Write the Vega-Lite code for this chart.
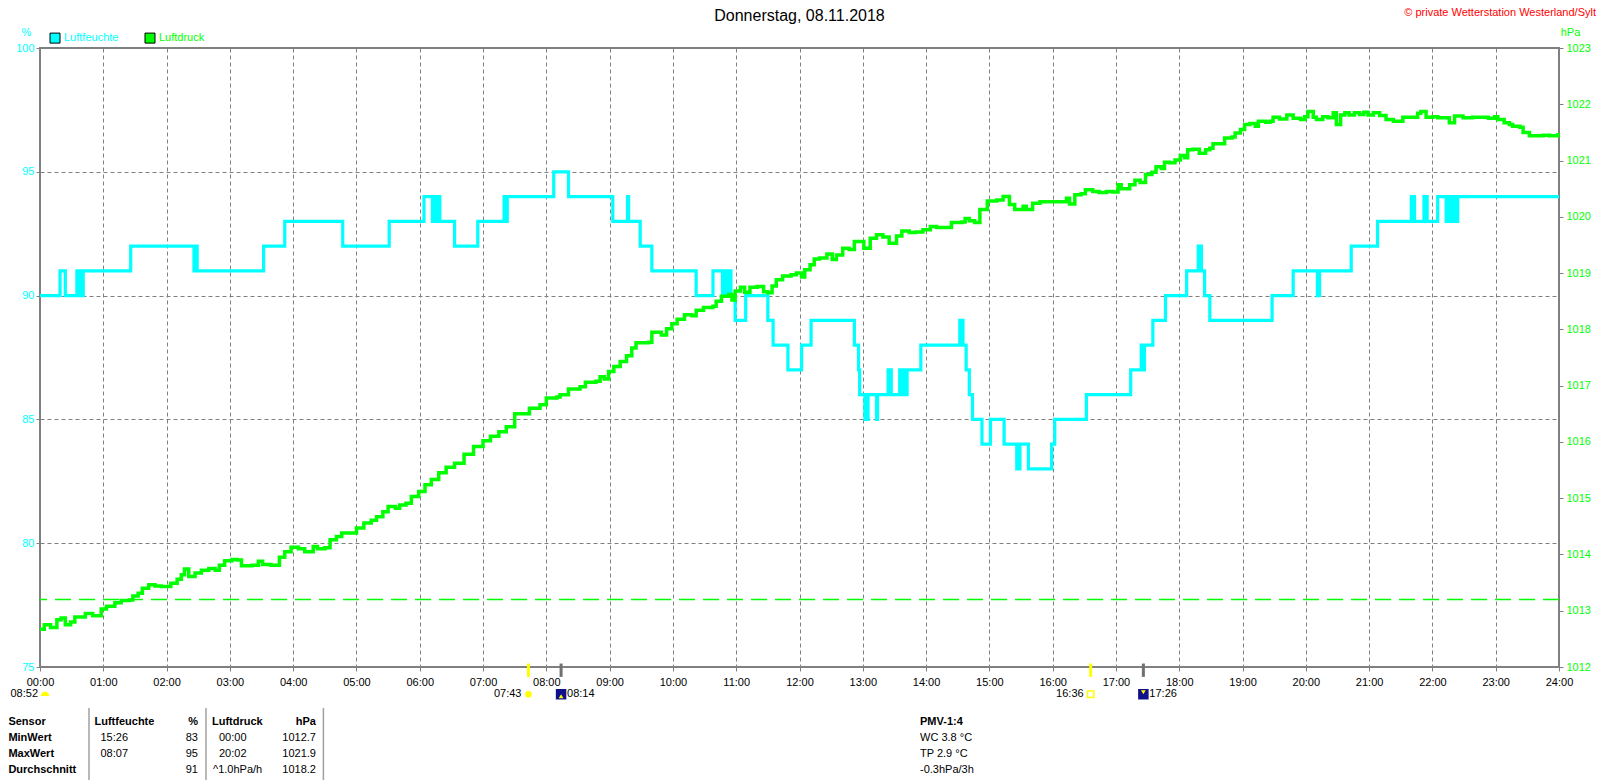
{
  "$schema": "https://vega.github.io/schema/vega-lite/v6.json",
  "width": 1519,
  "height": 619,
  "autosize": "none",
  "padding": {"left": 40, "top": 48, "right": 41, "bottom": 113},
  "background": "#ffffff",
  "config": {
    "font": "Liberation Sans",
    "view": {"stroke": "#808080", "strokeWidth": 2},
    "axis": {
      "domain": false,
      "tickColor": "#808080",
      "tickSize": 4,
      "labelFontSize": 11,
      "gridColor": "#808080",
      "gridDash": [4, 3],
      "gridWidth": 1,
      "gridOpacity": 1,
      "titleFontWeight": "normal",
      "titleFontSize": 11
    }
  },
  "datasets": {
    "humidity": [
      {"h": 0, "rh": 90}, {"h": 0.317, "rh": 91}, {"h": 0.4, "rh": 90}, {"h": 0.583, "rh": 91}, {"h": 0.617, "rh": 90},
      {"h": 0.65, "rh": 91}, {"h": 0.667, "rh": 90}, {"h": 0.683, "rh": 91}, {"h": 1.433, "rh": 92}, {"h": 2.433, "rh": 91},
      {"h": 2.467, "rh": 92}, {"h": 2.483, "rh": 91}, {"h": 3.533, "rh": 92}, {"h": 3.867, "rh": 93}, {"h": 4.783, "rh": 92},
      {"h": 5.517, "rh": 93}, {"h": 6.067, "rh": 94}, {"h": 6.2, "rh": 93}, {"h": 6.233, "rh": 94}, {"h": 6.267, "rh": 93},
      {"h": 6.3, "rh": 94}, {"h": 6.317, "rh": 93}, {"h": 6.55, "rh": 92}, {"h": 6.917, "rh": 93}, {"h": 7.333, "rh": 94},
      {"h": 7.35, "rh": 93}, {"h": 7.383, "rh": 94}, {"h": 8.117, "rh": 95}, {"h": 8.35, "rh": 94}, {"h": 9.05, "rh": 93},
      {"h": 9.283, "rh": 94}, {"h": 9.3, "rh": 93}, {"h": 9.483, "rh": 92}, {"h": 9.667, "rh": 91}, {"h": 10.367, "rh": 90},
      {"h": 10.633, "rh": 91}, {"h": 10.783, "rh": 90}, {"h": 10.8, "rh": 91}, {"h": 10.833, "rh": 90}, {"h": 10.85, "rh": 91},
      {"h": 10.883, "rh": 90}, {"h": 10.9, "rh": 91}, {"h": 10.917, "rh": 90}, {"h": 10.983, "rh": 89}, {"h": 11.15, "rh": 90},
      {"h": 11.5, "rh": 89}, {"h": 11.583, "rh": 88}, {"h": 11.817, "rh": 87}, {"h": 12.033, "rh": 88}, {"h": 12.183, "rh": 89},
      {"h": 12.867, "rh": 88}, {"h": 12.933, "rh": 87}, {"h": 12.95, "rh": 86}, {"h": 13.033, "rh": 85}, {"h": 13.05, "rh": 86},
      {"h": 13.067, "rh": 85}, {"h": 13.083, "rh": 86}, {"h": 13.217, "rh": 85}, {"h": 13.233, "rh": 86}, {"h": 13.4, "rh": 87},
      {"h": 13.45, "rh": 86}, {"h": 13.583, "rh": 87}, {"h": 13.617, "rh": 86}, {"h": 13.65, "rh": 87}, {"h": 13.667, "rh": 86},
      {"h": 13.7, "rh": 87}, {"h": 13.917, "rh": 88}, {"h": 14.533, "rh": 89}, {"h": 14.583, "rh": 88}, {"h": 14.633, "rh": 87},
      {"h": 14.683, "rh": 86}, {"h": 14.733, "rh": 85}, {"h": 14.883, "rh": 84}, {"h": 15.017, "rh": 85}, {"h": 15.233, "rh": 84},
      {"h": 15.433, "rh": 83}, {"h": 15.483, "rh": 84}, {"h": 15.617, "rh": 83}, {"h": 15.983, "rh": 84}, {"h": 16.033, "rh": 85},
      {"h": 16.533, "rh": 86}, {"h": 17.233, "rh": 87}, {"h": 17.4, "rh": 88}, {"h": 17.417, "rh": 87}, {"h": 17.45, "rh": 88},
      {"h": 17.583, "rh": 89}, {"h": 17.783, "rh": 90}, {"h": 18.117, "rh": 91}, {"h": 18.3, "rh": 92}, {"h": 18.35, "rh": 91},
      {"h": 18.4, "rh": 90}, {"h": 18.483, "rh": 89}, {"h": 19.467, "rh": 90}, {"h": 19.8, "rh": 91}, {"h": 20.183, "rh": 90},
      {"h": 20.217, "rh": 91}, {"h": 20.717, "rh": 92}, {"h": 21.133, "rh": 93}, {"h": 21.667, "rh": 94}, {"h": 21.717, "rh": 93},
      {"h": 21.867, "rh": 94}, {"h": 21.917, "rh": 93}, {"h": 22.083, "rh": 94}, {"h": 22.217, "rh": 93}, {"h": 22.25, "rh": 94},
      {"h": 22.283, "rh": 93}, {"h": 22.333, "rh": 94}, {"h": 22.367, "rh": 93}, {"h": 22.4, "rh": 94}, {"h": 24, "rh": 94}
    ],
    "pressure": [
      {"h": 0, "p": 1012.67}, {"h": 0.067, "p": 1012.75}, {"h": 0.167, "p": 1012.70}, {"h": 0.267, "p": 1012.84}, {"h": 0.333, "p": 1012.87},
      {"h": 0.4, "p": 1012.75}, {"h": 0.483, "p": 1012.80}, {"h": 0.55, "p": 1012.89}, {"h": 0.683, "p": 1012.89}, {"h": 0.717, "p": 1012.95},
      {"h": 0.833, "p": 1012.91}, {"h": 0.967, "p": 1013.03}, {"h": 1.05, "p": 1013.08}, {"h": 1.183, "p": 1013.14}, {"h": 1.283, "p": 1013.18},
      {"h": 1.417, "p": 1013.19}, {"h": 1.467, "p": 1013.26}, {"h": 1.55, "p": 1013.31}, {"h": 1.617, "p": 1013.40}, {"h": 1.717, "p": 1013.46},
      {"h": 1.817, "p": 1013.44}, {"h": 1.917, "p": 1013.43}, {"h": 2.017, "p": 1013.43}, {"h": 2.067, "p": 1013.49}, {"h": 2.167, "p": 1013.56},
      {"h": 2.233, "p": 1013.64}, {"h": 2.283, "p": 1013.74}, {"h": 2.35, "p": 1013.61}, {"h": 2.45, "p": 1013.67}, {"h": 2.55, "p": 1013.72},
      {"h": 2.667, "p": 1013.75}, {"h": 2.767, "p": 1013.72}, {"h": 2.833, "p": 1013.81}, {"h": 2.917, "p": 1013.89}, {"h": 3.033, "p": 1013.91},
      {"h": 3.117, "p": 1013.90}, {"h": 3.183, "p": 1013.80}, {"h": 3.35, "p": 1013.81}, {"h": 3.45, "p": 1013.88}, {"h": 3.517, "p": 1013.82},
      {"h": 3.65, "p": 1013.81}, {"h": 3.783, "p": 1013.95}, {"h": 3.867, "p": 1014.05}, {"h": 3.967, "p": 1014.13}, {"h": 4.083, "p": 1014.10},
      {"h": 4.183, "p": 1014.05}, {"h": 4.317, "p": 1014.14}, {"h": 4.383, "p": 1014.10}, {"h": 4.5, "p": 1014.12}, {"h": 4.583, "p": 1014.26},
      {"h": 4.683, "p": 1014.32}, {"h": 4.767, "p": 1014.38}, {"h": 4.95, "p": 1014.38}, {"h": 5.0, "p": 1014.47}, {"h": 5.117, "p": 1014.56},
      {"h": 5.233, "p": 1014.61}, {"h": 5.317, "p": 1014.67}, {"h": 5.417, "p": 1014.76}, {"h": 5.5, "p": 1014.85}, {"h": 5.617, "p": 1014.82},
      {"h": 5.683, "p": 1014.88}, {"h": 5.783, "p": 1014.91}, {"h": 5.867, "p": 1015.03}, {"h": 5.983, "p": 1015.12}, {"h": 6.083, "p": 1015.24},
      {"h": 6.183, "p": 1015.33}, {"h": 6.3, "p": 1015.45}, {"h": 6.417, "p": 1015.55}, {"h": 6.55, "p": 1015.62}, {"h": 6.7, "p": 1015.78},
      {"h": 6.85, "p": 1015.92}, {"h": 7.0, "p": 1016.02}, {"h": 7.117, "p": 1016.10}, {"h": 7.25, "p": 1016.18}, {"h": 7.367, "p": 1016.27},
      {"h": 7.5, "p": 1016.50}, {"h": 7.683, "p": 1016.50}, {"h": 7.733, "p": 1016.60}, {"h": 7.9, "p": 1016.66}, {"h": 8.0, "p": 1016.78},
      {"h": 8.167, "p": 1016.80}, {"h": 8.217, "p": 1016.84}, {"h": 8.35, "p": 1016.94}, {"h": 8.533, "p": 1016.98}, {"h": 8.617, "p": 1017.06},
      {"h": 8.783, "p": 1017.08}, {"h": 8.85, "p": 1017.16}, {"h": 8.917, "p": 1017.12}, {"h": 8.983, "p": 1017.25}, {"h": 9.067, "p": 1017.34},
      {"h": 9.167, "p": 1017.43}, {"h": 9.267, "p": 1017.53}, {"h": 9.35, "p": 1017.67}, {"h": 9.417, "p": 1017.76}, {"h": 9.617, "p": 1017.77},
      {"h": 9.667, "p": 1017.95}, {"h": 9.733, "p": 1017.95}, {"h": 9.817, "p": 1017.90}, {"h": 9.9, "p": 1018.01}, {"h": 9.983, "p": 1018.10},
      {"h": 10.067, "p": 1018.18}, {"h": 10.183, "p": 1018.26}, {"h": 10.3, "p": 1018.24}, {"h": 10.367, "p": 1018.34}, {"h": 10.483, "p": 1018.39},
      {"h": 10.633, "p": 1018.41}, {"h": 10.683, "p": 1018.50}, {"h": 10.767, "p": 1018.59}, {"h": 10.883, "p": 1018.62}, {"h": 10.933, "p": 1018.52},
      {"h": 10.983, "p": 1018.68}, {"h": 11.067, "p": 1018.75}, {"h": 11.133, "p": 1018.66}, {"h": 11.217, "p": 1018.75}, {"h": 11.333, "p": 1018.76},
      {"h": 11.433, "p": 1018.67}, {"h": 11.5, "p": 1018.65}, {"h": 11.567, "p": 1018.77}, {"h": 11.633, "p": 1018.88}, {"h": 11.733, "p": 1018.95},
      {"h": 11.867, "p": 1018.97}, {"h": 11.95, "p": 1019.00}, {"h": 12.033, "p": 1018.93}, {"h": 12.083, "p": 1019.06}, {"h": 12.167, "p": 1019.15},
      {"h": 12.233, "p": 1019.25}, {"h": 12.317, "p": 1019.27}, {"h": 12.433, "p": 1019.34}, {"h": 12.517, "p": 1019.24}, {"h": 12.583, "p": 1019.32},
      {"h": 12.683, "p": 1019.44}, {"h": 12.783, "p": 1019.42}, {"h": 12.867, "p": 1019.56}, {"h": 12.95, "p": 1019.56}, {"h": 13.017, "p": 1019.44},
      {"h": 13.117, "p": 1019.62}, {"h": 13.217, "p": 1019.68}, {"h": 13.317, "p": 1019.64}, {"h": 13.417, "p": 1019.53}, {"h": 13.533, "p": 1019.66},
      {"h": 13.617, "p": 1019.75}, {"h": 13.733, "p": 1019.72}, {"h": 13.833, "p": 1019.73}, {"h": 13.95, "p": 1019.77}, {"h": 14.067, "p": 1019.83},
      {"h": 14.167, "p": 1019.81}, {"h": 14.317, "p": 1019.81}, {"h": 14.4, "p": 1019.90}, {"h": 14.567, "p": 1019.91}, {"h": 14.617, "p": 1019.97},
      {"h": 14.683, "p": 1019.93}, {"h": 14.767, "p": 1019.90}, {"h": 14.85, "p": 1020.13}, {"h": 14.967, "p": 1020.28}, {"h": 15.117, "p": 1020.30},
      {"h": 15.217, "p": 1020.36}, {"h": 15.317, "p": 1020.22}, {"h": 15.4, "p": 1020.13}, {"h": 15.533, "p": 1020.19}, {"h": 15.583, "p": 1020.13},
      {"h": 15.683, "p": 1020.24}, {"h": 15.8, "p": 1020.27}, {"h": 15.95, "p": 1020.27}, {"h": 16.117, "p": 1020.27}, {"h": 16.217, "p": 1020.33},
      {"h": 16.267, "p": 1020.23}, {"h": 16.35, "p": 1020.39}, {"h": 16.45, "p": 1020.41}, {"h": 16.517, "p": 1020.48}, {"h": 16.633, "p": 1020.45},
      {"h": 16.733, "p": 1020.43}, {"h": 16.85, "p": 1020.45}, {"h": 16.95, "p": 1020.44}, {"h": 17.033, "p": 1020.57}, {"h": 17.083, "p": 1020.50},
      {"h": 17.217, "p": 1020.57}, {"h": 17.3, "p": 1020.65}, {"h": 17.383, "p": 1020.61}, {"h": 17.467, "p": 1020.75}, {"h": 17.567, "p": 1020.79},
      {"h": 17.633, "p": 1020.89}, {"h": 17.717, "p": 1020.86}, {"h": 17.767, "p": 1020.97}, {"h": 17.85, "p": 1020.96}, {"h": 17.933, "p": 1021.01},
      {"h": 18.017, "p": 1021.09}, {"h": 18.083, "p": 1021.05}, {"h": 18.133, "p": 1021.19}, {"h": 18.217, "p": 1021.20}, {"h": 18.317, "p": 1021.13},
      {"h": 18.417, "p": 1021.19}, {"h": 18.483, "p": 1021.22}, {"h": 18.533, "p": 1021.30}, {"h": 18.667, "p": 1021.30}, {"h": 18.717, "p": 1021.40},
      {"h": 18.833, "p": 1021.42}, {"h": 18.883, "p": 1021.49}, {"h": 18.967, "p": 1021.55}, {"h": 19.033, "p": 1021.64}, {"h": 19.117, "p": 1021.66},
      {"h": 19.2, "p": 1021.61}, {"h": 19.25, "p": 1021.70}, {"h": 19.367, "p": 1021.68}, {"h": 19.433, "p": 1021.70}, {"h": 19.483, "p": 1021.77},
      {"h": 19.583, "p": 1021.74}, {"h": 19.7, "p": 1021.81}, {"h": 19.8, "p": 1021.75}, {"h": 19.917, "p": 1021.73}, {"h": 19.983, "p": 1021.78},
      {"h": 20.033, "p": 1021.87}, {"h": 20.117, "p": 1021.77}, {"h": 20.167, "p": 1021.73}, {"h": 20.267, "p": 1021.78}, {"h": 20.35, "p": 1021.76},
      {"h": 20.433, "p": 1021.85}, {"h": 20.483, "p": 1021.64}, {"h": 20.55, "p": 1021.81}, {"h": 20.617, "p": 1021.85}, {"h": 20.683, "p": 1021.81},
      {"h": 20.767, "p": 1021.85}, {"h": 20.85, "p": 1021.82}, {"h": 20.917, "p": 1021.86}, {"h": 20.983, "p": 1021.81}, {"h": 21.067, "p": 1021.85},
      {"h": 21.167, "p": 1021.80}, {"h": 21.267, "p": 1021.73}, {"h": 21.383, "p": 1021.70}, {"h": 21.45, "p": 1021.70}, {"h": 21.533, "p": 1021.77},
      {"h": 21.683, "p": 1021.77}, {"h": 21.767, "p": 1021.84}, {"h": 21.817, "p": 1021.87}, {"h": 21.9, "p": 1021.77}, {"h": 22.0, "p": 1021.78},
      {"h": 22.083, "p": 1021.76}, {"h": 22.167, "p": 1021.76}, {"h": 22.267, "p": 1021.67}, {"h": 22.35, "p": 1021.79}, {"h": 22.483, "p": 1021.76},
      {"h": 22.633, "p": 1021.77}, {"h": 22.767, "p": 1021.77}, {"h": 22.883, "p": 1021.75}, {"h": 22.983, "p": 1021.78}, {"h": 23.033, "p": 1021.73},
      {"h": 23.133, "p": 1021.67}, {"h": 23.217, "p": 1021.64}, {"h": 23.267, "p": 1021.61}, {"h": 23.383, "p": 1021.59}, {"h": 23.433, "p": 1021.50},
      {"h": 23.533, "p": 1021.44}, {"h": 23.633, "p": 1021.44}, {"h": 23.75, "p": 1021.45}, {"h": 23.85, "p": 1021.44}, {"h": 23.983, "p": 1021.49}
    ],
    "astro": [
      {"h": 7.717, "label": "07:43", "body": "Sonne", "event": "Aufgang"},
      {"h": 16.6, "label": "16:36", "body": "Sonne", "event": "Untergang"},
      {"h": 8.233, "label": "08:14", "body": "Mond", "event": "Aufgang"},
      {"h": 17.433, "label": "17:26", "body": "Mond", "event": "Untergang"}
    ],
    "table": [
      {"row": 0, "col": 0, "text": "Sensor"}, {"row": 0, "col": 1, "text": "Luftfeuchte"}, {"row": 0, "col": 3, "text": "%"},
      {"row": 0, "col": 4, "text": "Luftdruck"}, {"row": 0, "col": 7, "text": "hPa"}, {"row": 0, "col": 8, "text": "PMV-1:4"},
      {"row": 1, "col": 0, "text": "MinWert"}, {"row": 1, "col": 2, "text": "15:26"}, {"row": 1, "col": 3, "text": "83"},
      {"row": 1, "col": 6, "text": "00:00"}, {"row": 1, "col": 7, "text": "1012.7"}, {"row": 1, "col": 8, "text": "WC 3.8 °C"},
      {"row": 2, "col": 0, "text": "MaxWert"}, {"row": 2, "col": 2, "text": "08:07"}, {"row": 2, "col": 3, "text": "95"},
      {"row": 2, "col": 6, "text": "20:02"}, {"row": 2, "col": 7, "text": "1021.9"}, {"row": 2, "col": 8, "text": "TP 2.9 °C"},
      {"row": 3, "col": 0, "text": "Durchschnitt"}, {"row": 3, "col": 3, "text": "91"}, {"row": 3, "col": 5, "text": "^1.0hPa/h"},
      {"row": 3, "col": 7, "text": "1018.2"}, {"row": 3, "col": 8, "text": "-0.3hPa/3h"}
    ]
  },
  "layer": [
    {
      "data": {"name": "humidity"},
      "mark": {"type": "line", "interpolate": "step-after", "strokeWidth": 3.2, "strokeJoin": "miter", "color": "#00ffff"},
      "encoding": {
        "x": {
          "field": "h",
          "type": "quantitative",
          "scale": {"domain": [0, 24], "nice": false, "zero": false},
          "axis": {
            "orient": "bottom",
            "title": null,
            "grid": true,
            "values": [0, 1, 2, 3, 4, 5, 6, 7, 8, 9, 10, 11, 12, 13, 14, 15, 16, 17, 18, 19, 20, 21, 22, 23, 24],
            "labelExpr": "(datum.value < 10 ? '0' : '') + datum.value + ':00'",
            "labelFlush": false,
            "labelOverlap": false,
            "labelColor": "#000000",
            "labelPadding": 5
          }
        },
        "y": {
          "field": "rh",
          "type": "quantitative",
          "scale": {"domain": [75, 100], "nice": false, "zero": false},
          "axis": {
            "orient": "left",
            "title": "%",
            "titleAngle": 0,
            "titleX": -14,
            "titleY": -16,
            "titleAlign": "center",
            "titleBaseline": "middle",
            "titleColor": "#00ffff",
            "values": [75, 80, 85, 90, 95, 100],
            "labelColor": "#00ffff",
            "labelPadding": 2,
            "grid": true
          }
        }
      }
    },
    {
      "data": {"values": [{}]},
      "mark": {"type": "rule", "color": "#00ff00", "strokeWidth": 1.5, "strokeDash": [16, 8]},
      "encoding": {
        "y": {"datum": 1013.2, "scale": {"domain": [1012, 1023], "nice": false, "zero": false}, "axis": null}
      }
    },
    {
      "data": {"name": "pressure"},
      "mark": {"type": "line", "interpolate": "step-after", "strokeWidth": 3.5, "strokeJoin": "miter", "color": "#00ff00"},
      "encoding": {
        "x": {"field": "h", "type": "quantitative", "scale": {"domain": [0, 24], "nice": false, "zero": false}, "axis": null},
        "y": {
          "field": "p",
          "type": "quantitative",
          "scale": {"domain": [1012, 1023], "nice": false, "zero": false},
          "axis": {
            "orient": "right",
            "title": "hPa",
            "titleAngle": 0,
            "titleX": 11,
            "titleY": -16,
            "titleAlign": "center",
            "titleBaseline": "middle",
            "titleColor": "#00ff00",
            "values": [1012, 1013, 1014, 1015, 1016, 1017, 1018, 1019, 1020, 1021, 1022, 1023],
            "format": "d",
            "labelColor": "#00ff00",
            "labelPadding": 3,
            "grid": false
          }
        }
      }
    },
    {
      "data": {"values": [{"series": "Luftfeuchte"}]},
      "mark": {"type": "square", "size": 100, "color": "#00ffff", "stroke": "#000000", "strokeWidth": 1, "opacity": 1},
      "encoding": {
        "x": {"datum": 0.237, "scale": {"domain": [0, 24], "nice": false, "zero": false}, "axis": null},
        "y": {"datum": 100.4, "scale": {"domain": [75, 100], "nice": false, "zero": false}, "axis": null}
      }
    },
    {
      "data": {"values": [{"series": "Luftfeuchte"}]},
      "mark": {"type": "text", "align": "left", "baseline": "middle", "fontSize": 11, "color": "#00ffff"},
      "encoding": {
        "x": {"datum": 0.379, "scale": {"domain": [0, 24], "nice": false, "zero": false}, "axis": null},
        "y": {"datum": 100.4, "scale": {"domain": [75, 100], "nice": false, "zero": false}, "axis": null},
        "text": {"field": "series"}
      }
    },
    {
      "data": {"values": [{"series": "Luftdruck"}]},
      "mark": {"type": "square", "size": 100, "color": "#00ff00", "stroke": "#000000", "strokeWidth": 1, "opacity": 1},
      "encoding": {
        "x": {"datum": 1.738, "scale": {"domain": [0, 24], "nice": false, "zero": false}, "axis": null},
        "y": {"datum": 100.4, "scale": {"domain": [75, 100], "nice": false, "zero": false}, "axis": null}
      }
    },
    {
      "data": {"values": [{"series": "Luftdruck"}]},
      "mark": {"type": "text", "align": "left", "baseline": "middle", "fontSize": 11, "color": "#00ff00"},
      "encoding": {
        "x": {"datum": 1.88, "scale": {"domain": [0, 24], "nice": false, "zero": false}, "axis": null},
        "y": {"datum": 100.4, "scale": {"domain": [75, 100], "nice": false, "zero": false}, "axis": null},
        "text": {"field": "series"}
      }
    },
    {
      "data": {"values": [{"title": "Donnerstag, 08.11.2018"}]},
      "mark": {"type": "text", "fontSize": 16, "color": "#000000", "align": "center", "baseline": "middle", "dy": -32},
      "encoding": {
        "x": {"datum": 12, "scale": {"domain": [0, 24], "nice": false, "zero": false}, "axis": null},
        "y": {"datum": 100, "scale": {"domain": [75, 100], "nice": false, "zero": false}, "axis": null},
        "text": {"field": "title"}
      }
    },
    {
      "data": {"values": [{"source": "© private Wetterstation Westerland/Sylt"}]},
      "mark": {"type": "text", "fontSize": 11, "color": "#ff0000", "align": "right", "baseline": "middle", "dx": 37, "dy": -35},
      "encoding": {
        "x": {"datum": 24, "scale": {"domain": [0, 24], "nice": false, "zero": false}, "axis": null},
        "y": {"datum": 100, "scale": {"domain": [75, 100], "nice": false, "zero": false}, "axis": null},
        "text": {"field": "source"}
      }
    },
    {
      "data": {"name": "astro"},
      "transform": [{"filter": "datum.body == 'Sonne'"}],
      "mark": {"type": "rule", "color": "#ffff00", "strokeWidth": 3},
      "encoding": {
        "x": {"field": "h", "type": "quantitative", "scale": {"domain": [0, 24], "nice": false, "zero": false}, "axis": null},
        "y": {"datum": 75.14, "scale": {"domain": [75, 100], "nice": false, "zero": false}, "axis": null},
        "y2": {"datum": 74.6}
      }
    },
    {
      "data": {"name": "astro"},
      "transform": [{"filter": "datum.body == 'Mond'"}],
      "mark": {"type": "rule", "color": "#707070", "strokeWidth": 3},
      "encoding": {
        "x": {"field": "h", "type": "quantitative", "scale": {"domain": [0, 24], "nice": false, "zero": false}, "axis": null},
        "y": {"datum": 75.14, "scale": {"domain": [75, 100], "nice": false, "zero": false}, "axis": null},
        "y2": {"datum": 74.6}
      }
    },
    {
      "data": {"name": "astro"},
      "transform": [{"filter": "datum.body == 'Sonne'"}],
      "mark": {"type": "text", "align": "right", "baseline": "middle", "dx": -7, "fontSize": 11, "color": "#000000"},
      "encoding": {
        "x": {"field": "h", "type": "quantitative", "scale": {"domain": [0, 24], "nice": false, "zero": false}, "axis": null},
        "y": {"datum": 73.9, "scale": {"domain": [75, 100], "nice": false, "zero": false}, "axis": null},
        "text": {"field": "label"}
      }
    },
    {
      "data": {"name": "astro"},
      "transform": [{"filter": "datum.body == 'Mond'"}],
      "mark": {"type": "text", "align": "left", "baseline": "middle", "dx": 6, "fontSize": 11, "color": "#000000"},
      "encoding": {
        "x": {"field": "h", "type": "quantitative", "scale": {"domain": [0, 24], "nice": false, "zero": false}, "axis": null},
        "y": {"datum": 73.9, "scale": {"domain": [75, 100], "nice": false, "zero": false}, "axis": null},
        "text": {"field": "label"}
      }
    },
    {
      "data": {"name": "astro"},
      "transform": [{"filter": "datum.body == 'Sonne' && datum.event == 'Aufgang'"}],
      "mark": {"type": "circle", "color": "#ffff00", "size": 45, "opacity": 1},
      "encoding": {
        "x": {"field": "h", "type": "quantitative", "scale": {"domain": [0, 24], "nice": false, "zero": false}, "axis": null},
        "y": {"datum": 73.9, "scale": {"domain": [75, 100], "nice": false, "zero": false}, "axis": null}
      }
    },
    {
      "data": {"name": "astro"},
      "transform": [{"filter": "datum.body == 'Sonne' && datum.event == 'Untergang'"}],
      "mark": {"type": "point", "shape": "square", "filled": false, "color": "#ffff00", "size": 40, "strokeWidth": 1.5, "opacity": 1},
      "encoding": {
        "x": {"field": "h", "type": "quantitative", "scale": {"domain": [0, 24], "nice": false, "zero": false}, "axis": null},
        "y": {"datum": 73.9, "scale": {"domain": [75, 100], "nice": false, "zero": false}, "axis": null}
      }
    },
    {
      "data": {"name": "astro"},
      "transform": [{"filter": "datum.body == 'Mond'"}],
      "mark": {"type": "square", "color": "#10108a", "size": 110, "opacity": 1},
      "encoding": {
        "x": {"field": "h", "type": "quantitative", "scale": {"domain": [0, 24], "nice": false, "zero": false}, "axis": null},
        "y": {"datum": 73.9, "scale": {"domain": [75, 100], "nice": false, "zero": false}, "axis": null}
      }
    },
    {
      "data": {"name": "astro"},
      "transform": [{"filter": "datum.body == 'Mond' && datum.event == 'Aufgang'"}],
      "mark": {"type": "point", "shape": "triangle-up", "filled": true, "color": "#ffff00", "size": 22, "opacity": 1},
      "encoding": {
        "x": {"field": "h", "type": "quantitative", "scale": {"domain": [0, 24], "nice": false, "zero": false}, "axis": null},
        "y": {"datum": 73.82, "scale": {"domain": [75, 100], "nice": false, "zero": false}, "axis": null}
      }
    },
    {
      "data": {"name": "astro"},
      "transform": [{"filter": "datum.body == 'Mond' && datum.event == 'Untergang'"}],
      "mark": {"type": "point", "shape": "triangle-down", "filled": true, "color": "#ffff00", "size": 22, "opacity": 1},
      "encoding": {
        "x": {"field": "h", "type": "quantitative", "scale": {"domain": [0, 24], "nice": false, "zero": false}, "axis": null},
        "y": {"datum": 73.98, "scale": {"domain": [75, 100], "nice": false, "zero": false}, "axis": null}
      }
    },
    {
      "data": {"values": [{"label": "08:52"}]},
      "mark": {"type": "text", "align": "right", "baseline": "middle", "dx": -2, "fontSize": 11, "color": "#000000"},
      "encoding": {
        "x": {"datum": 0, "scale": {"domain": [0, 24], "nice": false, "zero": false}, "axis": null},
        "y": {"datum": 73.9, "scale": {"domain": [75, 100], "nice": false, "zero": false}, "axis": null},
        "text": {"field": "label"}
      }
    },
    {
      "data": {"values": [{"label": "08:52"}]},
      "mark": {"type": "point", "shape": "M -1 0.4 A 1 1 0 0 1 1 0.4 Z", "filled": true, "color": "#ffff00", "size": 70, "opacity": 1},
      "encoding": {
        "x": {"datum": 0.08, "scale": {"domain": [0, 24], "nice": false, "zero": false}, "axis": null},
        "y": {"datum": 73.9, "scale": {"domain": [75, 100], "nice": false, "zero": false}, "axis": null}
      }
    },
    {
      "data": {"values": [{"col": 0.5}, {"col": 3.5}, {"col": 7.5}]},
      "mark": {"type": "rule", "color": "#a0a0a0", "strokeWidth": 1.5},
      "encoding": {
        "x": {
          "field": "col",
          "type": "quantitative",
          "scale": {"domain": [0, 0.5, 1, 2, 3, 3.5, 4, 5, 6, 7, 7.5, 8], "range": [-31.6, 49, 54.5, 60.5, 158, 166, 172, 173, 179, 276, 283.4, 880], "nice": false, "zero": false},
          "axis": null
        },
        "y": {"datum": -0.86, "scale": {"domain": [0, 3], "range": [673.7, 721.7], "nice": false, "zero": false}, "axis": null},
        "y2": {"datum": 3.7}
      }
    },
    {
      "data": {"name": "table"},
      "transform": [{"filter": "(datum.row == 0 || datum.col == 0) && datum.col != 3 && datum.col != 7"}],
      "mark": {"type": "text", "align": "left", "baseline": "middle", "fontSize": 11, "fontWeight": "bold", "color": "#000000"},
      "encoding": {
        "x": {"field": "col", "type": "quantitative", "scale": {"domain": [0, 0.5, 1, 2, 3, 3.5, 4, 5, 6, 7, 7.5, 8], "range": [-31.6, 49, 54.5, 60.5, 158, 166, 172, 173, 179, 276, 283.4, 880], "nice": false, "zero": false}, "axis": null},
        "y": {"field": "row", "type": "quantitative", "scale": {"domain": [0, 3], "range": [673.7, 721.7], "nice": false, "zero": false}, "axis": null},
        "text": {"field": "text"}
      }
    },
    {
      "data": {"name": "table"},
      "transform": [{"filter": "datum.row == 0 && (datum.col == 3 || datum.col == 7)"}],
      "mark": {"type": "text", "align": "right", "baseline": "middle", "fontSize": 11, "fontWeight": "bold", "color": "#000000"},
      "encoding": {
        "x": {"field": "col", "type": "quantitative", "scale": {"domain": [0, 0.5, 1, 2, 3, 3.5, 4, 5, 6, 7, 7.5, 8], "range": [-31.6, 49, 54.5, 60.5, 158, 166, 172, 173, 179, 276, 283.4, 880], "nice": false, "zero": false}, "axis": null},
        "y": {"field": "row", "type": "quantitative", "scale": {"domain": [0, 3], "range": [673.7, 721.7], "nice": false, "zero": false}, "axis": null},
        "text": {"field": "text"}
      }
    },
    {
      "data": {"name": "table"},
      "transform": [{"filter": "datum.row > 0 && datum.col != 0 && datum.col != 3 && datum.col != 7"}],
      "mark": {"type": "text", "align": "left", "baseline": "middle", "fontSize": 11, "color": "#000000"},
      "encoding": {
        "x": {"field": "col", "type": "quantitative", "scale": {"domain": [0, 0.5, 1, 2, 3, 3.5, 4, 5, 6, 7, 7.5, 8], "range": [-31.6, 49, 54.5, 60.5, 158, 166, 172, 173, 179, 276, 283.4, 880], "nice": false, "zero": false}, "axis": null},
        "y": {"field": "row", "type": "quantitative", "scale": {"domain": [0, 3], "range": [673.7, 721.7], "nice": false, "zero": false}, "axis": null},
        "text": {"field": "text"}
      }
    },
    {
      "data": {"name": "table"},
      "transform": [{"filter": "datum.row > 0 && (datum.col == 3 || datum.col == 7)"}],
      "mark": {"type": "text", "align": "right", "baseline": "middle", "fontSize": 11, "color": "#000000"},
      "encoding": {
        "x": {"field": "col", "type": "quantitative", "scale": {"domain": [0, 0.5, 1, 2, 3, 3.5, 4, 5, 6, 7, 7.5, 8], "range": [-31.6, 49, 54.5, 60.5, 158, 166, 172, 173, 179, 276, 283.4, 880], "nice": false, "zero": false}, "axis": null},
        "y": {"field": "row", "type": "quantitative", "scale": {"domain": [0, 3], "range": [673.7, 721.7], "nice": false, "zero": false}, "axis": null},
        "text": {"field": "text"}
      }
    }
  ],
  "resolve": {"scale": {"x": "independent", "y": "independent"}}
}
